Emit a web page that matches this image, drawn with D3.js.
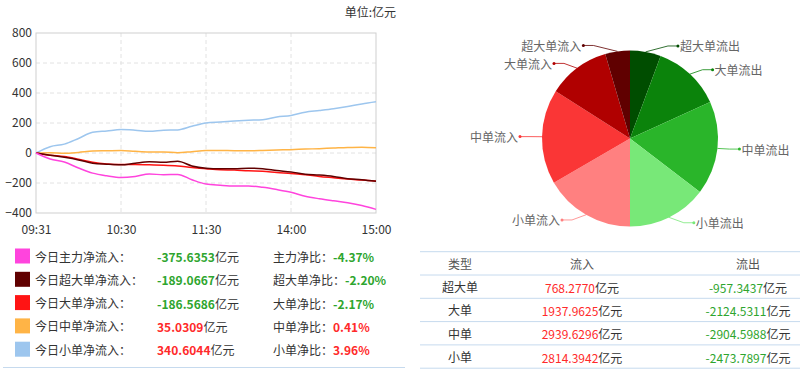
<!DOCTYPE html>
<html>
<head>
<meta charset="utf-8">
<script src="https://cdn.jsdelivr.net/npm/d3@7"></script>
<style>
  body { margin: 0; background: #fff; }
  svg { display: block; font-family: "Microsoft YaHei", "Noto Sans CJK SC", sans-serif; }
</style>
</head>
<body>
<div id="chart"></div>
<script>
// minutes after 09:31, one sample every 10 minutes
const minutes = [0, 10, 20, 30, 40, 50, 60, 70, 80, 90, 100, 110, 120,
  130, 140, 150, 160, 170, 180, 190, 200, 210, 220, 230, 240];
const timeTicks = [0, 60, 120, 180, 240];
const timeLabels = ["09:31", "10:30", "11:30", "14:00", "15:00"];
const yTicks = [-400, -200, 0, 200, 400, 600, 800];

// net inflow curves (亿元)
const mainFlow = [0, -40, -60, -100, -134, -152, -163, -156, -140, -145, -143, -178, -207,
  -215, -220, -220, -229, -244, -262, -288, -305, -319, -332, -350, -376];
const superFlow = [0, -15, -29, -46, -68, -75, -79, -68, -59, -62, -55, -86, -101,
  -105, -105, -101, -105, -117, -127, -141, -147, -156, -171, -178, -189];
const bigFlow = [0, -15, -24, -42, -62, -73, -77, -77, -79, -81, -86, -97, -105,
  -112, -114, -119, -121, -130, -136, -145, -156, -165, -174, -180, -187];
const midFlow = [0, 2, -2, 4, 13, 15, 17, 11, 7, 7, 2, 9, 17,
  17, 15, 15, 17, 20, 22, 26, 29, 33, 37, 39, 35];
const smallFlow = [0, 42, 59, 97, 138, 147, 156, 152, 145, 152, 154, 178, 200,
  207, 213, 218, 222, 240, 250, 272, 283, 295, 310, 327, 341];

// legend
const legendNames = ["今日主力净流入：", "今日超大单净流入：", "今日大单净流入：", "今日中单净流入：", "今日小单净流入："];
const legendValues = [-375.6353, -189.0667, -186.5686, 35.0309, 340.6044];
const ratioNames = ["主力净比：", "超大单净比：", "大单净比：", "中单净比：", "小单净比："];
const ratioValues = [-4.37, -2.20, -2.17, 0.41, 3.96];
const lineColors = ["#ff44dd", "#600000", "#ff1414", "#ffb446", "#9dc6ee"];

// table + pie
const types = ["超大单", "大单", "中单", "小单"];
const inflow = [768.2770, 1937.9625, 2939.6296, 2814.3942];
const outflow = [-957.3437, -2124.5311, -2904.5988, -2473.7897];
const pieNames = ["超大单流出", "大单流出", "中单流出", "小单流出", "小单流入", "中单流入", "大单流入", "超大单流入"];
const pieColors = ["#004d00", "#0b830b", "#2ab52a", "#78e878", "#ff8080", "#fa3636", "#b00000", "#600000"];

const red = "#ff2a2a", green = "#2ea52e";

const svg = d3.select("#chart").append("svg")
  .attr("width", 800)
  .attr("height", 370);

// ---- line chart ----
const x = d3.scaleLinear().domain([0, 240]).range([36, 376]);
const y = d3.scaleLinear().domain([-400, 800]).range([213, 33]);

svg.append("text")
  .attr("x", 396).attr("y", 11)
  .attr("text-anchor", "end")
  .attr("dominant-baseline", "central")
  .attr("font-size", 12).attr("fill", "#333")
  .text("单位:亿元");

const grid = svg.append("g").attr("stroke", "#e2e2e2").attr("stroke-dasharray", "4,3");
grid.selectAll(".h").data(yTicks.slice(1, -1)).join("line")
  .attr("x1", x(0)).attr("x2", x(240))
  .attr("y1", d => y(d)).attr("y2", d => y(d));
grid.selectAll(".v").data(timeTicks.slice(1, -1)).join("line")
  .attr("y1", y(800)).attr("y2", y(-400))
  .attr("x1", d => x(d)).attr("x2", d => x(d));

svg.append("rect")
  .attr("x", x(0)).attr("y", y(800))
  .attr("width", x(240) - x(0)).attr("height", y(-400) - y(800))
  .attr("fill", "none").attr("stroke", "#cfcfcf");

const yAxis = svg.append("g")
  .attr("transform", `translate(${x(0)},0)`)
  .call(d3.axisLeft(y).tickValues(yTicks).tickSize(0).tickPadding(4));
const xAxis = svg.append("g")
  .attr("transform", `translate(0,${y(-400)})`)
  .call(d3.axisBottom(x).tickValues(timeTicks).tickFormat((d, i) => timeLabels[i]).tickSize(0).tickPadding(12));
[yAxis, xAxis].forEach(a => {
  a.select(".domain").remove();
  a.selectAll("text").attr("font-size", 12).attr("fill", "#333")
    .style("font-family", "\"Microsoft YaHei\", \"Noto Sans CJK SC\", sans-serif");
});

const line = d3.line()
  .x((d, i) => x(minutes[i]))
  .y(d => y(d))
  .curve(d3.curveMonotoneX);

const series = [
  { v: smallFlow, c: lineColors[4] },
  { v: midFlow, c: lineColors[3] },
  { v: bigFlow, c: lineColors[2] },
  { v: superFlow, c: lineColors[1] },
  { v: mainFlow, c: lineColors[0] }
];
svg.selectAll(".series").data(series).join("path")
  .attr("d", d => line(d.v))
  .attr("fill", "none")
  .attr("stroke", d => d.c)
  .attr("stroke-width", 1.5);

// ---- legend ----
const rowY = i => 256 + i * 23.3;
const legend = svg.append("g").attr("font-size", 12);
legendNames.forEach((name, i) => {
  const cy = rowY(i);
  legend.append("rect")
    .attr("x", 15).attr("y", cy - 7.5)
    .attr("width", 15).attr("height", 15)
    .attr("fill", lineColors[i]);
  legend.append("text")
    .attr("x", 35).attr("y", cy).attr("dominant-baseline", "central")
    .attr("fill", "#333").text(name);
  const col = legendValues[i] < 0 ? green : red;
  const t = legend.append("text")
    .attr("x", 157).attr("y", cy).attr("dominant-baseline", "central");
  t.append("tspan").attr("fill", col).attr("font-weight", "bold").text(legendValues[i].toFixed(4));
  t.append("tspan").attr("fill", "#333").text("亿元");
  const r = legend.append("text")
    .attr("x", 273).attr("y", cy).attr("dominant-baseline", "central");
  r.append("tspan").attr("fill", "#333").text(ratioNames[i]);
  r.append("tspan").attr("fill", ratioValues[i] < 0 ? green : red)
    .attr("font-weight", "bold").text(ratioValues[i].toFixed(2) + "%");
});
svg.append("line")
  .attr("x1", 3).attr("x2", 405).attr("y1", 367.5).attr("y2", 367.5)
  .attr("stroke", "#c6daee");

// ---- table ----
const tableY = d3.scaleLinear().domain([0, 5]).range([251.7, 368.2]);
const colX = [460, 582, 748];
svg.append("g").selectAll("line").data(d3.range(6)).join("line")
  .attr("x1", 420).attr("x2", 800)
  .attr("y1", d => tableY(d)).attr("y2", d => tableY(d))
  .attr("stroke", "#c6daee");

const table = svg.append("g").attr("font-size", 12).attr("text-anchor", "middle");
["类型", "流入", "流出"].forEach((h, j) => {
  table.append("text")
    .attr("x", colX[j]).attr("y", tableY(0.5)).attr("dominant-baseline", "central")
    .attr("fill", "#555").text(h);
});
types.forEach((tp, i) => {
  const cy = tableY(i + 1.5);
  table.append("text")
    .attr("x", colX[0]).attr("y", cy).attr("dominant-baseline", "central")
    .attr("fill", "#333").text(tp);
  const a = table.append("text")
    .attr("x", colX[1]).attr("y", cy).attr("dominant-baseline", "central");
  a.append("tspan").attr("fill", red).text(inflow[i].toFixed(4));
  a.append("tspan").attr("fill", "#333").text("亿元");
  const b = table.append("text")
    .attr("x", colX[2]).attr("y", cy).attr("dominant-baseline", "central");
  b.append("tspan").attr("fill", green).text(outflow[i].toFixed(4));
  b.append("tspan").attr("fill", "#333").text("亿元");
});

// ---- pie ----
const pieValues = [
  -outflow[0], -outflow[1], -outflow[2], -outflow[3],
  inflow[3], inflow[2], inflow[1], inflow[0]
];
const pcx = 630, pcy = 138.5, pr = 88;
const pie = d3.pie().sort(null).value(d => d)(pieValues);
const arc = d3.arc().innerRadius(0).outerRadius(pr);

const pg = svg.append("g").attr("transform", `translate(${pcx},${pcy})`);
pg.selectAll("path").data(pie).join("path")
  .attr("d", arc)
  .attr("fill", (d, i) => pieColors[i]);

const labelR = pr + 6, bendR = pr + 12, len2 = 10;
pie.forEach((d, i) => {
  const a = (d.startAngle + d.endAngle) / 2;
  const s = Math.sin(a) >= 0 ? 1 : -1;
  const ex = pr * Math.sin(a), ey = -pr * Math.cos(a);
  const ly = -labelR * Math.cos(a);
  const dx = Math.sqrt(Math.max(0, 1 - (ly / bendR) ** 2)) * bendR;
  const pts = [[ex, ey], [s * dx, ly], [s * (dx + len2), ly]];
  pg.append("path")
    .attr("d", d3.line()(pts))
    .attr("fill", "none")
    .attr("stroke", pieColors[i])
    .attr("stroke-opacity", 0.8)
    .attr("stroke-width", 1);
  pg.append("circle")
    .attr("cx", pts[2][0]).attr("cy", ly).attr("r", 1.5)
    .attr("fill", pieColors[i]);
  pg.append("text")
    .attr("x", pts[2][0] + s * 2).attr("y", ly)
    .attr("text-anchor", s > 0 ? "start" : "end")
    .attr("dominant-baseline", "central")
    .attr("font-size", 12).attr("fill", "#666")
    .text(pieNames[i]);
});
</script>
</body>
</html>
